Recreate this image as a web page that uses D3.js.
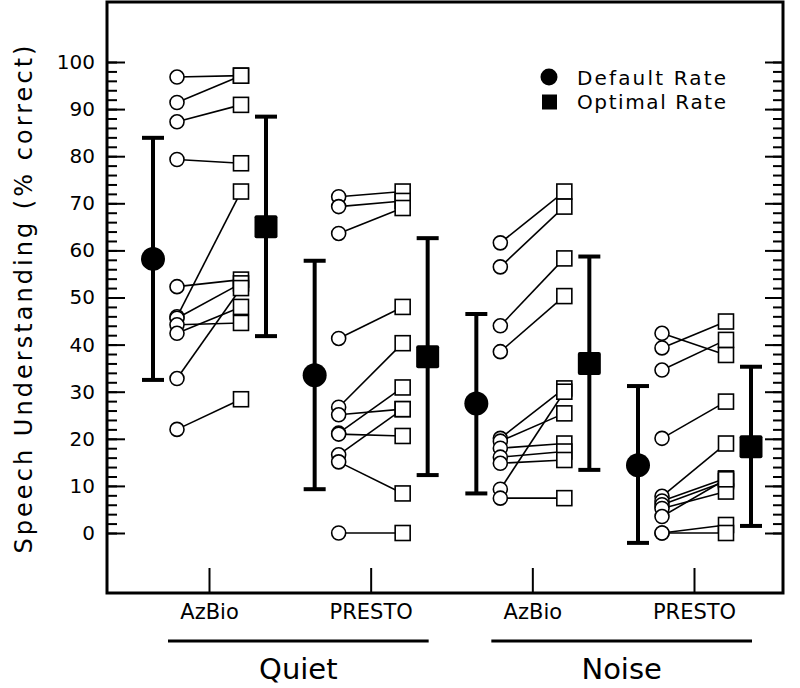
<!DOCTYPE html>
<html>
<head>
<meta charset="utf-8">
<script src="https://cdn.jsdelivr.net/npm/d3@7"></script>
<style>
  html, body { margin: 0; padding: 0; background: #fff; }
  svg { display: block; }
  text { font-family: "DejaVu Sans", sans-serif; fill: #000; }
</style>
</head>
<body>
<svg id="chart" width="800" height="688"></svg>
<script>
// ---------------- data ----------------
const categories = ["Quiet AzBio", "Quiet PRESTO", "Noise AzBio", "Noise PRESTO"];
const tickLabels = ["AzBio", "PRESTO", "AzBio", "PRESTO"];
const conditions = ["Quiet", "Noise"];
const conditionMembers = [["Quiet AzBio", "Quiet PRESTO"], ["Noise AzBio", "Noise PRESTO"]];
const yTicks = [0, 10, 20, 30, 40, 50, 60, 70, 80, 90, 100];
const legendLabels = ["Default Rate", "Optimal Rate"];

// individual subjects (default rate -> optimal rate)
const quietAzBioDefault  = [96.8, 91.4, 87.3, 79.3, 52.3, 45.9, 45.6, 44.2, 42.4, 32.8, 22.0];
const quietAzBioOptimal  = [97.1, 97.1, 90.9, 78.5, 53.8, 72.5, 53.0, 44.6, 48.0, 52.0, 28.4];
const quietPrestoDefault = [71.4, 69.3, 63.6, 41.3, 26.7, 25.1, 21.2, 21.0, 16.6, 15.1, 0];
const quietPrestoOptimal = [72.5, 70.5, 69.0, 48.0, 40.3, 26.3, 30.9, 20.6, 26.3, 8.4, 0];
const noiseAzBioDefault  = [61.6, 56.5, 44.0, 38.5, 20.1, 19.5, 18.0, 16.1, 14.8, 9.3, 7.4];
const noiseAzBioOptimal  = [72.5, 69.3, 58.3, 50.3, 30.7, 25.4, 19.0, 17.3, 15.5, 30.0, 7.4];
const noisePrestoDefault = [42.4, 39.3, 34.6, 20.1, 7.8, 6.8, 6.0, 5.2, 3.5, 0, 0];
const noisePrestoOptimal = [37.8, 44.9, 41.0, 27.9, 19.0, 11.6, 11.0, 8.8, 11.4, 1.7, 0];

// group means with error bars
const defaultMean = [58.2, 33.5, 27.5, 14.4];
const defaultLow  = [32.5, 9.3, 8.4, -2.1];
const defaultHigh = [83.9, 57.8, 46.5, 31.2];
const optimalMean = [65.0, 37.4, 36.0, 18.3];
const optimalLow  = [41.8, 12.3, 13.4, 1.5];
const optimalHigh = [88.4, 62.6, 58.7, 35.3];

const individualDefault = [quietAzBioDefault, quietPrestoDefault, noiseAzBioDefault, noisePrestoDefault];
const individualOptimal = [quietAzBioOptimal, quietPrestoOptimal, noiseAzBioOptimal, noisePrestoOptimal];

// ---------------- layout ----------------
const frame = { left: 107, right: 783, top: 2, bottom: 593 };
const off = { meanDef: -56, indDef: -32, indOpt: 32, meanOpt: 57 };

const svg = d3.select("#chart");
const x = d3.scalePoint().domain(categories).range([209, 694]);
const y = d3.scaleLinear().domain([0, 100]).range([533, 62]);

// frame
svg.append("rect")
  .attr("x", frame.left).attr("y", frame.top)
  .attr("width", frame.right - frame.left).attr("height", frame.bottom - frame.top)
  .attr("fill", "none").attr("stroke", "#000").attr("stroke-width", 3);

// left axis (ticks inward)
const gl = svg.append("g").attr("transform", `translate(${frame.left},0)`);
gl.call(d3.axisLeft(y).tickValues(d3.range(0, 101, 2)).tickSizeInner(-10).tickSizeOuter(0).tickFormat(""));
gl.call(g => g.select(".domain").remove());
const gl2 = svg.append("g").attr("transform", `translate(${frame.left},0)`);
gl2.call(d3.axisLeft(y).tickValues(yTicks).tickSizeInner(-18).tickSizeOuter(0).tickPadding(12).tickFormat(d3.format("d")));
gl2.call(g => g.select(".domain").remove());
gl2.selectAll("text").attr("font-size", 20).style("font-family", '"DejaVu Sans", sans-serif');
svg.selectAll(".tick line").attr("stroke", "#000").attr("stroke-width", 2);

// right axis (ticks inward)
const gr = svg.append("g").attr("transform", `translate(${frame.right},0)`);
gr.call(d3.axisRight(y).tickValues(d3.range(0, 101, 2)).tickSizeInner(-10).tickSizeOuter(0).tickFormat(""));
gr.call(g => g.select(".domain").remove());
const gr2 = svg.append("g").attr("transform", `translate(${frame.right},0)`);
gr2.call(d3.axisRight(y).tickValues(yTicks).tickSizeInner(-18).tickSizeOuter(0).tickFormat(""));
gr2.call(g => g.select(".domain").remove());
gr.selectAll(".tick line").attr("stroke-width", 2);
gr2.selectAll(".tick line").attr("stroke-width", 2);

// bottom axis
const gb = svg.append("g").attr("transform", `translate(0,${frame.bottom})`);
gb.call(d3.axisBottom(x).tickSizeInner(-25).tickSizeOuter(0).tickPadding(11)
  .tickFormat((d, i) => tickLabels[i]));
gb.call(g => g.select(".domain").remove());
gb.selectAll(".tick line").attr("stroke", "#000").attr("stroke-width", 2);
gb.selectAll("text").attr("font-size", 21).style("font-family", '"DejaVu Sans", sans-serif');

// condition groups
conditions.forEach((c, i) => {
  const mem = conditionMembers[i];
  const x0 = x(mem[0]) - 41, x1 = x(mem[1]) + 58;
  svg.append("line").attr("x1", x0).attr("x2", x1).attr("y1", 641).attr("y2", 641)
    .attr("stroke", "#000").attr("stroke-width", 3);
  svg.append("text").attr("x", (x0 + x1) / 2).attr("y", 679).attr("text-anchor", "middle")
    .attr("font-size", 29).text(c);
});

// y label
svg.append("text")
  .attr("transform", `translate(32,${(y(0) + y(100)) / 2 + 2}) rotate(-90)`)
  .attr("text-anchor", "middle").attr("font-size", 24)
  .attr("textLength", 508).attr("lengthAdjust", "spacing")
  .text("Speech Understanding (% correct)");

// individual lines
categories.forEach((cat, ci) => {
  const g = svg.append("g");
  const d0 = individualDefault[ci], d1 = individualOptimal[ci];
  const pairs = d0.map((v, k) => [v, d1[k]]);
  g.selectAll("line").data(pairs).join("line")
    .attr("x1", x(cat) + off.indDef).attr("x2", x(cat) + off.indOpt)
    .attr("y1", d => y(d[0])).attr("y2", d => y(d[1]))
    .attr("stroke", "#000").attr("stroke-width", 1.6);
  g.selectAll("circle").data(d0).join("circle")
    .attr("cx", x(cat) + off.indDef).attr("cy", d => y(d)).attr("r", 7)
    .attr("fill", "#fff").attr("stroke", "#000").attr("stroke-width", 1.6);
  g.selectAll("rect").data(d1).join("rect")
    .attr("x", x(cat) + off.indOpt - 7.5).attr("y", d => y(d) - 7.5)
    .attr("width", 15).attr("height", 15)
    .attr("fill", "#fff").attr("stroke", "#000").attr("stroke-width", 1.6);
});

// error bars + means
function errorBar(cx, lo, hi) {
  svg.append("line").attr("x1", cx).attr("x2", cx).attr("y1", y(lo)).attr("y2", y(hi))
    .attr("stroke", "#000").attr("stroke-width", 4);
  [lo, hi].forEach(v => svg.append("line").attr("x1", cx - 11).attr("x2", cx + 11)
    .attr("y1", y(v)).attr("y2", y(v)).attr("stroke", "#000").attr("stroke-width", 4));
}
categories.forEach((cat, ci) => {
  const cx0 = x(cat) + off.meanDef, cx1 = x(cat) + off.meanOpt;
  errorBar(cx0, defaultLow[ci], defaultHigh[ci]);
  errorBar(cx1, optimalLow[ci], optimalHigh[ci]);
  svg.append("circle").attr("cx", cx0).attr("cy", y(defaultMean[ci])).attr("r", 12).attr("fill", "#000");
  svg.append("rect").attr("x", cx1 - 11.5).attr("y", y(optimalMean[ci]) - 11.5)
    .attr("width", 23).attr("height", 23).attr("rx", 2).attr("fill", "#000");
});

// legend
svg.append("circle").attr("cx", 549).attr("cy", 77).attr("r", 8.5).attr("fill", "#000");
svg.append("rect").attr("x", 542).attr("y", 94.5).attr("width", 15).attr("height", 15).attr("fill", "#000");
legendLabels.forEach((t, i) => {
  svg.append("text").attr("x", 577).attr("y", 85 + i * 24).attr("font-size", 20)
    .attr("textLength", 149).attr("lengthAdjust", "spacing").text(t);
});
</script>
</body>
</html>
